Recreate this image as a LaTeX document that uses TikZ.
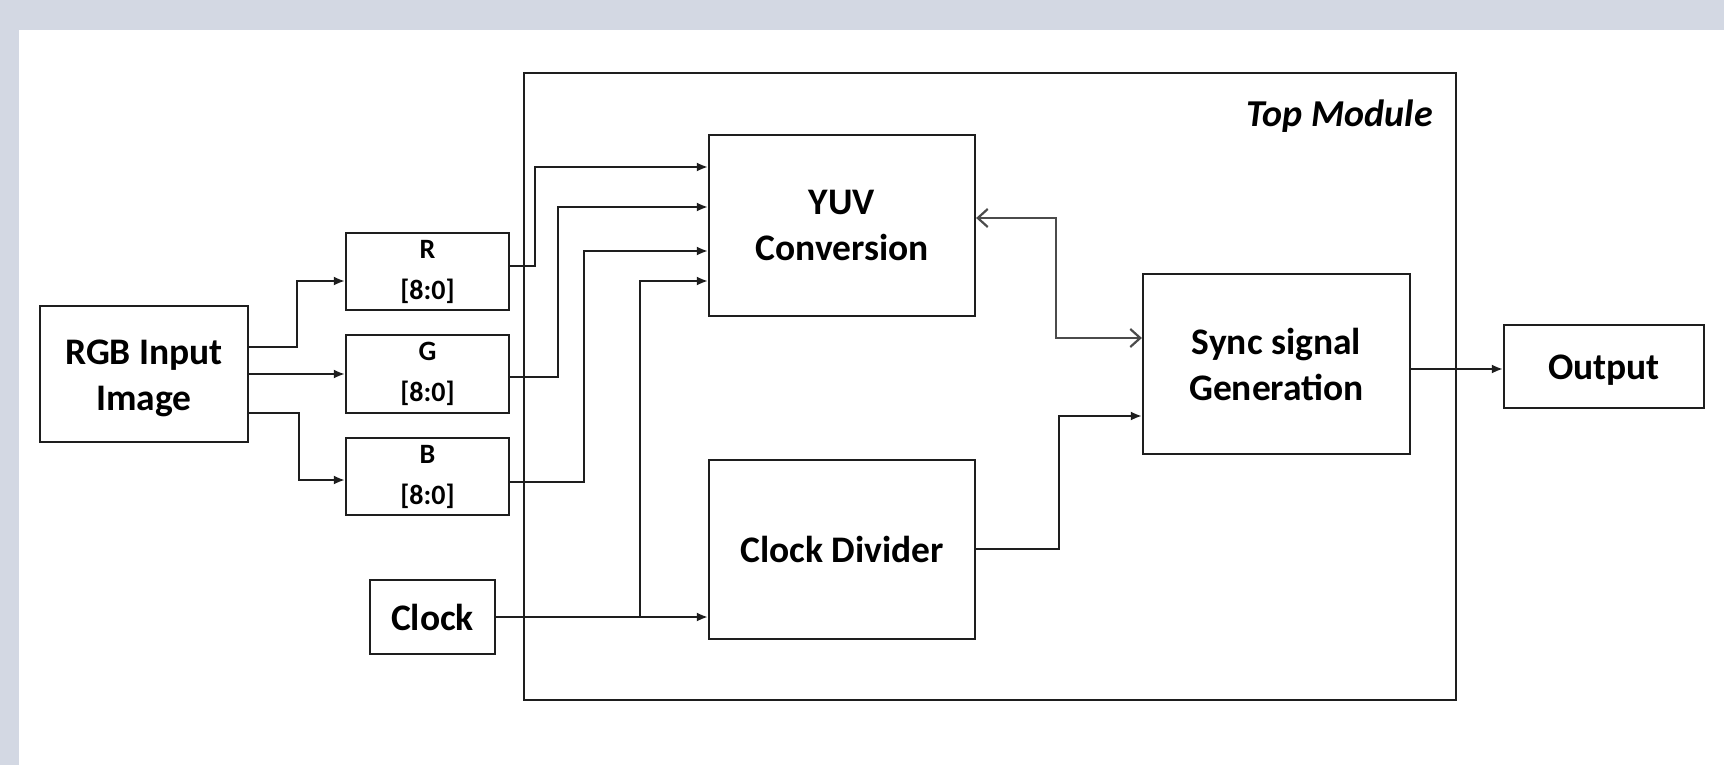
\documentclass[tikz,border=0pt]{standalone}
\usepackage{fontspec}
\setmainfont{Carlito}
\usetikzlibrary{arrows.meta,calc}
\definecolor{bgray}{HTML}{D3D8E3}
\definecolor{ink}{HTML}{1E1E1E}
\newcommand{\padtop}[1]{\raisebox{0pt}[\dimexpr\height+8pt\relax]{#1}}
\begin{document}
\begin{tikzpicture}[x=1pt,y=-1pt,
  box/.style={draw=ink,line width=2.2pt,align=center,inner sep=0pt,
    font=\fontsize{37.5}{46}\selectfont\bfseries},
  small/.style={box,font=\fontsize{28}{41}\selectfont\bfseries},
  arr/.style={draw=ink,line width=2.2pt,-{Latex[length=11pt,width=9pt]}},
  barb/.style={draw=ink!80,line width=2.2pt,{Straight Barb[length=10pt,width=18pt]}-{Straight Barb[length=10pt,width=18pt]}}]
\fill[bgray] (0,0) rectangle (1724,765);
\fill[white] (19,30) rectangle (1724,765);
\useasboundingbox (0,0) rectangle (1724,765);
% top module
\draw[ink,line width=2.2pt] (524,73) rectangle (1456,700);
\node[anchor=east,inner sep=0pt,font=\fontsize{38}{40}\selectfont\bfseries\itshape] (tm) at (1433,116) {Top Module};
% nodes
\node[box,minimum width=208pt,minimum height=136pt] (rgb) at (144,374) {\padtop{RGB Input}\\Image};
\node[small,minimum width=163pt,minimum height=77pt] (r) at (427.5,271.5) {R\\{[8:0]}};
\node[small,minimum width=163pt,minimum height=78pt] (g) at (427.5,374) {G\\{[8:0]}};
\node[small,minimum width=163pt,minimum height=77pt] (b) at (427.5,476.5) {B\\{[8:0]}};
\node[box,minimum width=125pt,minimum height=74pt] (clk) at (432.5,617) {Clock};
\node[box,minimum width=266pt,minimum height=181pt] (yuv) at (842,225.5) {YUV\\Conversion};
\node[box,minimum width=266pt,minimum height=179pt] (cd) at (842,549.5) {Clock Divider};
\node[box,minimum width=267pt,minimum height=180pt] (sync) at (1276.5,364) {Sync signal\\Generation};
\node[box,minimum width=200pt,minimum height=83pt] (out) at (1604,366.5) {\padtop{Output}};
% connectors
\draw[arr] (rgb.east |- 0,347) -| (297,281) -- (r.west |- 0,281);
\draw[arr] (rgb.east |- 0,374) -- (g.west |- 0,374);
\draw[arr] (rgb.east |- 0,413) -| (299,480) -- (b.west |- 0,480);
\draw[arr] (r.east |- 0,266) -| (535,167) -- (yuv.west |- 0,167);
\draw[arr] (g.east |- 0,377) -| (558,207) -- (yuv.west |- 0,207);
\draw[arr] (b.east |- 0,482) -| (584,251) -- (yuv.west |- 0,251);
\coordinate (jn) at (640,617);
\draw[arr] (clk.east) -- (cd.west |- clk.east);
\draw[arr] (jn) |- (yuv.west |- 0,281);
\draw[barb] (yuv.east |- 0,218) -| (1056,338) -- (sync.west |- 0,338);
\draw[arr] (cd.east |- 0,549) -| (1059,416) -- (sync.west |- 0,416);
\draw[arr] (sync.east |- 0,369) -- (out.west |- 0,369);
\end{tikzpicture}
\end{document}
